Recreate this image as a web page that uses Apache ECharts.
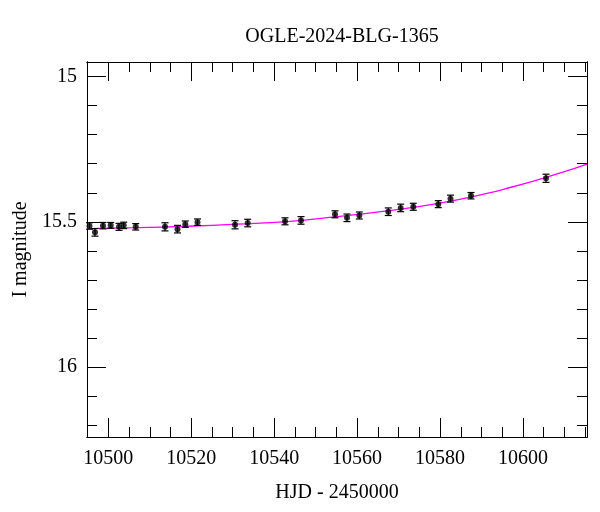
<!DOCTYPE html>
<html><head><meta charset="utf-8">
<script src="https://cdn.jsdelivr.net/npm/echarts@6/dist/echarts.min.js"></script>
<style>html,body{margin:0;padding:0;background:#fff}#c{width:600px;height:512px}</style>
</head><body><div id="c"></div>
<script>
// Observations (HJD - 2450000, I mag, error)
const obsHJD = [10495.45, 10496.78, 10498.71, 10500.57, 10502.57, 10503.70, 10506.60, 10513.66, 10516.68, 10518.56, 10521.50, 10530.55, 10533.61, 10542.61, 10546.47, 10554.67, 10557.56, 10560.53, 10567.52, 10570.51, 10573.55, 10579.58, 10582.53, 10587.47, 10605.56];
const obsMag = [15.514, 15.536, 15.513, 15.512, 15.517, 15.512, 15.517, 15.517, 15.525, 15.508, 15.501, 15.510, 15.504, 15.498, 15.495, 15.474, 15.486, 15.478, 15.465, 15.452, 15.448, 15.439, 15.420, 15.410, 15.350];
const obsErr = [0.011, 0.013, 0.011, 0.010, 0.012, 0.011, 0.011, 0.014, 0.013, 0.011, 0.011, 0.014, 0.013, 0.012, 0.013, 0.012, 0.013, 0.012, 0.013, 0.013, 0.012, 0.012, 0.012, 0.011, 0.014];
// Model curve
const modelHJD = [10494.85, 10506.91, 10518.97, 10531.03, 10543.09, 10555.15, 10567.21, 10579.27, 10591.33, 10597.36, 10603.39, 10609.42, 10615.45];
const modelMag = [15.523, 15.520, 15.515, 15.508, 15.499, 15.482, 15.462, 15.437, 15.402, 15.380, 15.356, 15.330, 15.301];
// Ticks
const xMajorTicks = [10500, 10520, 10540, 10560, 10580, 10600];
const xMinorTicks = [10495, 10505, 10510, 10515, 10525, 10530, 10535, 10545, 10550, 10555, 10565, 10570, 10575, 10585, 10590, 10595, 10605, 10610, 10615];
const yMajorTicks = [15, 15.5, 16];
const yMinorTicks = [15.1, 15.2, 15.3, 15.4, 15.6, 15.7, 15.8, 15.9, 16.1, 16.2];
const xMin = 10494.85, xMax = 10615.45, yMin = 14.95, yMax = 16.24;

const FONT = 'Liberation Serif';
const chart = echarts.init(document.getElementById('c'));

function xAx(pos, ticks, len, labels, extra) {
  return Object.assign({
    type: 'value', position: pos, min: xMin, max: xMax,
    axisLine: { show: true, onZero: false, lineStyle: { color: '#000', width: 1 } },
    axisTick: { show: true, inside: true, length: len, customValues: ticks, lineStyle: { color: '#000', width: 1 } },
    axisLabel: labels ? { show: true, customValues: ticks, color: '#000', fontFamily: FONT, fontSize: 20, margin: 12, formatter: v => String(Math.round(v)) } : { show: false },
    splitLine: { show: false }
  }, extra || {});
}
function yAx(pos, ticks, len, labels, extra) {
  return Object.assign({
    type: 'value', position: pos, min: yMin, max: yMax, inverse: true,
    axisLine: { show: true, onZero: false, lineStyle: { color: '#000', width: 1 } },
    axisTick: { show: true, inside: true, length: len, customValues: ticks, lineStyle: { color: '#000', width: 1 } },
    axisLabel: labels ? { show: true, customValues: ticks, color: '#000', fontFamily: FONT, fontSize: 20, margin: 10, formatter: v => String(+v.toFixed(1)) } : { show: false },
    splitLine: { show: false }
  }, extra || {});
}

const errData = obsHJD.map((x, i) => [x, obsMag[i] - obsErr[i], obsMag[i] + obsErr[i]]);

chart.setOption({
  animation: false,
  backgroundColor: '#fff',
  title: {
    text: 'OGLE-2024-BLG-1365', left: 337, top: 22, textAlign: 'center',
    textStyle: { fontFamily: FONT, fontSize: 20, fontWeight: 'normal', color: '#000' }
  },
  grid: { left: 87, right: 13, top: 62, bottom: 75, containLabel: false },
  xAxis: [
    xAx('bottom', xMajorTicks, 19, true, { name: 'HJD - 2450000', nameLocation: 'middle', nameGap: 46, nameTextStyle: { fontFamily: FONT, fontSize: 20, color: '#000' } }),
    xAx('bottom', xMinorTicks, 10, false),
    xAx('top', xMajorTicks, 19, false),
    xAx('top', xMinorTicks, 10, false)
  ],
  yAxis: [
    yAx('left', yMajorTicks, 19, true, { name: 'I magnitude', nameLocation: 'middle', nameGap: 56, nameTextStyle: { fontFamily: FONT, fontSize: 20, color: '#000' } }),
    yAx('left', yMinorTicks, 10, false),
    yAx('right', yMajorTicks, 19, false),
    yAx('right', yMinorTicks, 10, false)
  ],
  series: [
    {
      type: 'line', xAxisIndex: 0, yAxisIndex: 0, smooth: true, showSymbol: false, clip: true,
      data: modelHJD.map((x, i) => [x, modelMag[i]]),
      lineStyle: { color: '#ff00ff', width: 1.3 }, z: 2
    },
    {
      type: 'custom', xAxisIndex: 0, yAxisIndex: 0, z: 3,
      data: errData, encode: { x: 0, y: [1, 2] },
      renderItem: function (params, api) {
        const x = api.value(0);
        const p1 = api.coord([x, api.value(1)]);
        const p2 = api.coord([x, api.value(2)]);
        const w = 3.5;
        const st = { stroke: '#000', lineWidth: 1.2 };
        return { type: 'group', children: [
          { type: 'line', shape: { x1: p1[0], y1: p1[1], x2: p2[0], y2: p2[1] }, style: st },
          { type: 'line', shape: { x1: p1[0] - w, y1: p1[1], x2: p1[0] + w, y2: p1[1] }, style: st },
          { type: 'line', shape: { x1: p2[0] - w, y1: p2[1], x2: p2[0] + w, y2: p2[1] }, style: st }
        ]};
      }
    },
    {
      type: 'scatter', xAxisIndex: 0, yAxisIndex: 0, z: 4,
      data: obsHJD.map((x, i) => [x, obsMag[i]]),
      symbol: 'circle', symbolSize: 6, itemStyle: { color: '#000' }
    }
  ]
});
</script>
</body></html>
